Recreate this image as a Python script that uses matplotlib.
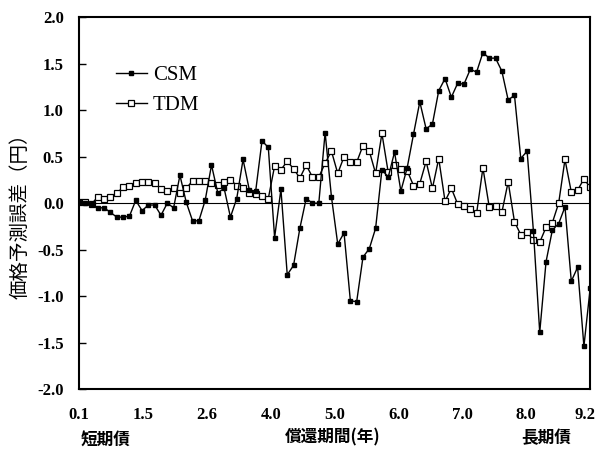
import matplotlib.pyplot as plt
import matplotlib.transforms as mtransforms
import numpy as np

# 価格予測誤差 (円), 82 bonds ordered by remaining maturity
csm = [0.01, 0.00, -0.01, -0.05, -0.05, -0.10, -0.15, -0.15, -0.14, 0.03,
       -0.08, -0.02, -0.02, -0.13, 0.00, -0.05, 0.30, 0.01, -0.19, -0.19,
       0.03, 0.41, 0.11, 0.16, -0.15, 0.05, 0.47, 0.14, 0.13, 0.67,
       0.60, -0.37, 0.15, -0.77, -0.67, -0.27, 0.05, 0.00, 0.00, 0.76,
       0.07, -0.44, -0.32, -1.05, -1.06, -0.58, -0.49, -0.27, 0.36, 0.28,
       0.55, 0.13, 0.38, 0.74, 1.09, 0.80, 0.85, 1.21, 1.34, 1.14,
       1.29, 1.28, 1.44, 1.41, 1.62, 1.56, 1.56, 1.42, 1.11, 1.16,
       0.48, 0.56, -0.30, -1.39, -0.63, -0.29, -0.22, -0.04, -0.84, -0.69,
       -1.54, -0.91]
tdm = [0.01, 0.01, -0.01, 0.07, 0.04, 0.07, 0.11, 0.17, 0.19, 0.22,
       0.23, 0.23, 0.22, 0.15, 0.13, 0.16, 0.11, 0.16, 0.24, 0.24,
       0.24, 0.22, 0.20, 0.23, 0.25, 0.19, 0.16, 0.11, 0.10, 0.08,
       0.05, 0.40, 0.36, 0.45, 0.37, 0.27, 0.41, 0.28, 0.28, 0.43,
       0.56, 0.32, 0.50, 0.44, 0.44, 0.62, 0.56, 0.32, 0.75, 0.33,
       0.41, 0.37, 0.35, 0.19, 0.21, 0.45, 0.16, 0.48, 0.02, 0.16,
       -0.01, -0.03, -0.06, -0.11, 0.38, -0.04, -0.03, -0.10, 0.23, -0.20,
       -0.34, -0.31, -0.40, -0.42, -0.26, -0.21, 0.00, 0.47, 0.12, 0.14,
       0.26, 0.17]
maturity_labels = ['0.1', '1.5', '2.6', '4.0', '5.0', '6.0', '7.0', '8.0', '9.2']
ytick_vals = [2.0, 1.5, 1.0, 0.5, 0.0, -0.5, -1.0, -1.5, -2.0]

jp = ['Noto Sans CJK JP', 'DejaVu Sans']
num = ['Liberation Serif', 'DejaVu Serif']

fig = plt.figure(figsize=(5.98, 4.54), dpi=100)
ax = fig.add_axes([0.132, 0.143, 0.855, 0.819])

x = np.arange(len(csm))
ax.axhline(0, color='black', lw=0.8, zorder=1)
ax.plot(x, csm, color='black', lw=1.0, marker='s', ms=3.5,
        mfc='black', mec='black', label='CSM', zorder=3)
ax.plot(x, tdm, color='black', lw=1.0, marker='s', ms=4.5,
        mfc='white', mec='black', mew=0.9, label='TDM', zorder=2)

ax.set_xlim(0, len(csm) - 1)
ax.set_ylim(-2.0, 2.0)
ax.set_xticks(np.linspace(0, len(csm) - 1, len(maturity_labels)))
ax.set_xticklabels(maturity_labels, family=num, fontsize=12, fontweight='bold')
ax.set_yticks(ytick_vals)
ax.set_yticklabels([f'{v:.1f}' for v in ytick_vals], family=num,
                   fontsize=12, fontweight='bold')
ax.tick_params(axis='x', length=0, pad=13)
ax.tick_params(axis='y', direction='in', length=5, width=1, pad=11)
for s in ax.spines.values():
    s.set_linewidth(1.5)

# pull the last x label a little inside the figure edge
last = ax.get_xticklabels()[-1]
last.set_transform(last.get_transform() +
                   mtransforms.ScaledTranslation(-5 / 100, 0, fig.dpi_scale_trans))

ax.set_ylabel('価格予測誤差（円）', family=jp, fontsize=14)
ax.yaxis.set_label_coords(-0.094, 0.478)

fig.text(0.177, 0.032, '短期債', family=jp, fontsize=12, fontweight='bold',
         ha='center', va='center')
fig.text(0.557, 0.036, '償還期間(年)', family=jp, fontsize=12, fontweight='bold',
         ha='center', va='center')
fig.text(0.913, 0.036, '長期債', family=jp, fontsize=12, fontweight='bold',
         ha='center', va='center')

ax.legend(loc='upper left', bbox_to_anchor=(0.035, 0.92), frameon=False,
          handlelength=1.5, handletextpad=0.3, labelspacing=0.5,
          prop={'family': num, 'size': 15})

fig.savefig('out.png', dpi=100)
